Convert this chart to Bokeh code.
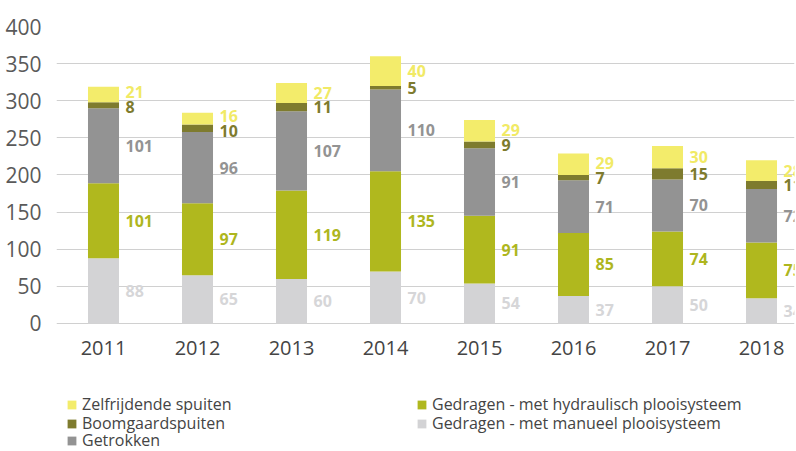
from bokeh.plotting import figure
from bokeh.models import ColumnDataSource, FixedTicker, Legend, LegendItem
from bokeh.core.properties import value
from bokeh.embed import file_html
from bokeh.resources import INLINE

years = ["2011", "2012", "2013", "2014", "2015", "2016", "2017", "2018"]
manueel = [88, 65, 60, 70, 54, 37, 50, 34]
hydraulisch = [101, 97, 119, 135, 91, 85, 74, 75]
getrokken = [101, 96, 107, 110, 91, 71, 70, 72]
boomgaard = [8, 10, 11, 5, 9, 7, 15, 11]
zelfrijdend = [21, 16, 27, 40, 29, 29, 30, 28]

series_names = ["Gedragen - met manueel plooisysteem", "Gedragen - met hydraulisch plooisysteem",
                "Getrokken", "Boomgaardspuiten", "Zelfrijdende spuiten"]
series_vals = [manueel, hydraulisch, getrokken, boomgaard, zelfrijdend]
fill_colors = ["#D3D3D5", "#B0B81E", "#939393", "#7E7B2E", "#F3EC6B"]
label_colors = ["#D6D6D8", "#AEB61E", "#939393", "#7E7B2E", "#F1EA66"]
y_ticks = [0, 50, 100, 150, 200, 250, 300, 350, 400]

FONT = "Open Sans"
xs = list(range(len(years)))

# frame extends below zero to host the category labels and the legend
p = figure(width=796, height=451, output_backend="svg", toolbar_location=None,
           x_range=(-0.5, 7.351), y_range=(-172.4, 400),
           min_border_left=56, min_border_right=2, min_border_top=26, min_border_bottom=0)
p.outline_line_color = None
p.background_fill_color = "white"
p.border_fill_color = "white"

# stacked segments
bottoms = [0] * len(years)
renderers = []
mids_all = []
for name, vals, col in zip(series_names, series_vals, fill_colors):
    tops = [b + v for b, v in zip(bottoms, vals)]
    src = ColumnDataSource(dict(x=xs, bottom=bottoms, top=tops))
    r = p.vbar(x="x", bottom="bottom", top="top", width=0.33, source=src,
               fill_color=col, line_color=None)
    renderers.append(r)
    mids_all.append([(b + t) / 2 for b, t in zip(bottoms, tops)])
    bottoms = tops

# push apart the two top labels when they are too close
mids_all[3] = list(mids_all[3])
mids_all[4] = list(mids_all[4])
for i in range(len(years)):
    a, b = mids_all[3][i], mids_all[4][i]
    if b - a < 19.5:
        c = (a + b) / 2
        mids_all[3][i] = c - 10
        mids_all[4][i] = c + 10

for vals, mids, col in zip(series_vals, mids_all, label_colors):
    src = ColumnDataSource(dict(x=xs, y=mids, t=[str(v) for v in vals]))
    p.text(x="x", y="y", text="t", source=src, x_offset=22, text_align="left",
           text_baseline="middle", text_color=col, text_font=value(FONT),
           text_font_size="16px", text_font_style="bold")

# category labels under the baseline
ysrc = ColumnDataSource(dict(x=xs, y=[0] * len(xs), t=years))
p.text(x="x", y="y", text="t", source=ysrc, y_offset=25, text_align="center",
       text_baseline="middle", text_color="#444444", text_font=value(FONT),
       text_font_size="20px")

p.xaxis.visible = False

p.yaxis.ticker = FixedTicker(ticks=y_ticks)
p.yaxis.axis_line_color = None
p.yaxis.major_tick_line_color = None
p.yaxis.minor_tick_line_color = None
p.yaxis.major_label_text_font = FONT
p.yaxis.major_label_text_font_size = "21px"
p.yaxis.major_label_text_color = "#5A5A5A"
p.yaxis.major_label_standoff = 9

p.xgrid.grid_line_color = None
p.ygrid.ticker = FixedTicker(ticks=y_ticks)
p.ygrid.grid_line_color = "#D0D0D0"
p.ygrid.grid_line_width = 1

# legend: one entry per Legend so that rows sit at the reference pitch
def make_legend(i, loc):
    lg = Legend(items=[LegendItem(label=series_names[i], renderers=[renderers[i]])],
                location=loc, orientation="vertical")
    lg.glyph_width = 11
    lg.glyph_height = 11
    lg.label_height = 18
    lg.label_standoff = 5
    lg.padding = 0
    lg.margin = 0
    lg.border_line_color = None
    lg.background_fill_alpha = 0
    lg.label_text_font = FONT
    lg.label_text_font_size = "16px"
    lg.label_text_color = "#444444"
    return lg

col1 = [4, 3, 2]
col2 = [1, 0]
row_vy = [36, 17, 0]
for r, i in enumerate(col1):
    p.add_layout(make_legend(i, (10, row_vy[r])))
for r, i in enumerate(col2):
    p.add_layout(make_legend(i, (360, row_vy[r])))

open("out.html", "w").write(file_html(p, INLINE))
